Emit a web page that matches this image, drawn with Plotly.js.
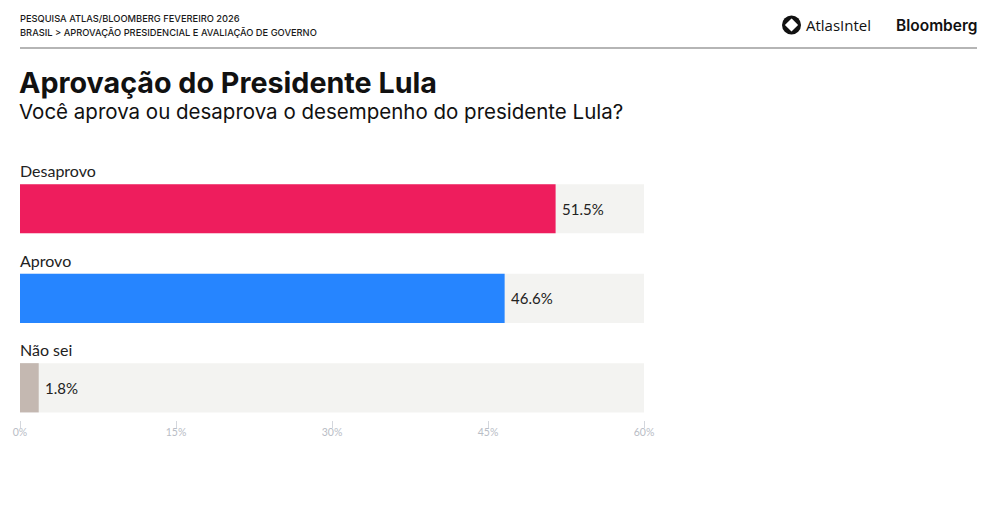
<!DOCTYPE html>
<html>
<head>
<meta charset="utf-8">
<script src="https://cdn.plot.ly/plotly-3.0.1.min.js"></script>
<style>
  html, body { margin: 0; padding: 0; background: #ffffff; }
  #chart { width: 995px; height: 517px; }
</style>
</head>
<body>
<div id="chart"></div>
<script>
// ---- data ----
var categories = ["Desaprovo", "Aprovo", "Não sei"];
var values = [51.5, 46.6, 1.8];
var barColors = ["#EE1D5D", "#2685FF", "#C4B8B1"];
var tickValues = [0, 15, 30, 45, 60];
var tickLabels = ["0%", "15%", "30%", "45%", "60%"];
var axisMax = 60;

var headerLine1 = "PESQUISA ATLAS/BLOOMBERG FEVEREIRO 2026";
var headerLine2 = "BRASIL > APROVAÇÃO PRESIDENCIAL E AVALIAÇÃO DE GOVERNO";
var titleText = "Aprovação do Presidente Lula";
var subtitleText = "Você aprova ou desaprova o desempenho do presidente Lula?";

// ---- layout geometry ----
var W = 995, Hh = 517;
var L = 20, R = 351, T = 164, B = 97;
var PW = W - L - R, PH = Hh - T - B;
function px(x) { return (x - L) / PW; }
function py(y) { return (T + PH - y) / PH; }

var idx = categories.map(function (c, i) { return i; });

var track = {
  type: "bar", orientation: "h",
  x: categories.map(function () { return axisMax; }),
  y: idx, width: 0.55,
  marker: { color: "#F3F3F1", line: { width: 0 } },
  hoverinfo: "skip", showlegend: false
};
var bars = {
  type: "bar", orientation: "h",
  x: values, y: idx, width: 0.55,
  marker: { color: barColors, line: { width: 0 } },
  hoverinfo: "x", showlegend: false
};

var annotations = [];
categories.forEach(function (c, i) {
  annotations.push({
    x: 0, y: i, xref: "x", yref: "y", text: c, showarrow: false,
    xanchor: "left", yanchor: "middle", yshift: 38, xshift: -2,
    font: { family: "Lato, 'Open Sans', sans-serif", size: 16, color: "#222222" }
  });
  annotations.push({
    x: values[i], y: i, xref: "x", yref: "y", text: values[i].toFixed(1) + "%",
    showarrow: false, xanchor: "left", yanchor: "middle", xshift: 4,
    font: { family: "Lato, 'Open Sans', sans-serif", size: 15, color: "#222222" }
  });
});

function paperText(text, x, y, size, color, family, weight, anchor) {
  return {
    xref: "paper", yref: "paper", x: px(x), y: py(y), text: text, showarrow: false,
    xanchor: anchor || "left", yanchor: "middle",
    font: { family: family, size: size, color: color, weight: weight || 400 }
  };
}
var sans = "Inter, 'Noto Sans', sans-serif";
annotations.push(paperText(headerLine1, 18, 18, 9.3, "#1a1a1a", sans, 500));
annotations.push(paperText(headerLine2, 18, 32, 9.3, "#1a1a1a", sans, 500));
annotations.push(paperText(titleText, 17, 82, 28.7, "#111111", sans, 700));
annotations.push(paperText(subtitleText, 17, 111, 20.5, "#111111", sans, 400));
annotations.push(paperText("AtlasIntel", 804, 25, 15, "#111111", "'Open Sans', sans-serif", 400));
annotations.push(paperText("Bloomberg", 979, 25, 15.5, "#111111", sans, 600, "right"));

var cx = 791.5, cy = 25, r = 9.5, d = 5.2;
var shapes = [
  { type: "line", xref: "paper", yref: "paper", x0: px(20), x1: px(977), y0: py(48), y1: py(48),
    line: { color: "#9c9c9c", width: 1.5 } },
  { type: "circle", xref: "paper", yref: "paper", x0: px(cx - r), x1: px(cx + r), y0: py(cy + r), y1: py(cy - r),
    fillcolor: "#111111", line: { width: 0 } },
  { type: "path", xref: "paper", yref: "paper",
    path: "M" + px(cx) + "," + py(cy - d) + " L" + px(cx + d) + "," + py(cy) + " L" + px(cx) + "," + py(cy + d) + " L" + px(cx - d) + "," + py(cy) + " Z",
    fillcolor: "#ffffff", line: { color: "#ffffff", width: 2 } }
];

var layout = {
  width: W, height: Hh,
  margin: { l: L, r: R, t: T, b: B, pad: 0 },
  paper_bgcolor: "#ffffff", plot_bgcolor: "#ffffff",
  barmode: "overlay",
  showlegend: false,
  xaxis: {
    range: [0, axisMax], tickvals: tickValues, ticktext: tickLabels,
    showgrid: false, zeroline: false, showline: false,
    ticks: "outside", ticklen: 7, tickcolor: "#d4d7dd", tickwidth: 1,
    tickfont: { family: "Lato, sans-serif", size: 10.5, color: "#b9bdc6" },
    ticklabelstandoff: -5, fixedrange: true
  },
  yaxis: {
    range: [2.36, -0.5], visible: false, showgrid: false, zeroline: false, fixedrange: true
  },
  annotations: annotations,
  shapes: shapes,
  font: { family: "Lato, sans-serif" }
};

Plotly.newPlot("chart", [track, bars], layout, { displayModeBar: false, staticPlot: true });
</script>
</body>
</html>
